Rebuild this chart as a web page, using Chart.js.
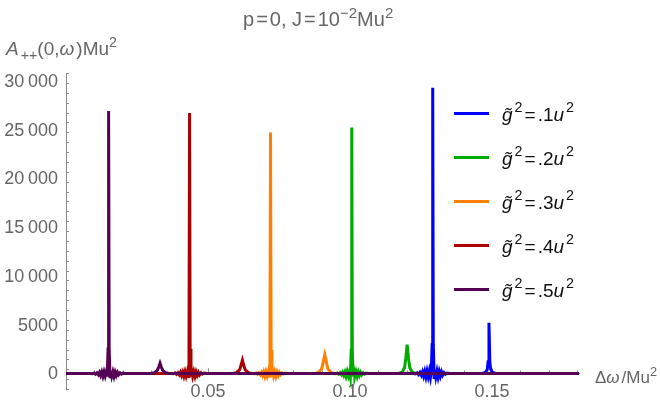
<!DOCTYPE html>
<html>
<head>
<meta charset="utf-8">
<script src="https://cdn.jsdelivr.net/npm/chart.js@4.4.1/dist/chart.umd.min.js"></script>
<style>
  body { margin: 0; background: #fff; }
  #wrap { position: relative; width: 660px; height: 405px; font-family: 'Liberation Sans', Arial, sans-serif; }
  canvas { position: absolute; left: 0; top: 0; }
  .lbl { position: absolute; white-space: nowrap; color: #666; }
  .lbl sup { font-size: 0.75em; vertical-align: 0.55em; line-height: 0; }
  .lbl sub { font-size: 0.75em; vertical-align: -0.35em; line-height: 0; }
  .lbl i, .leg-text i { margin-right: 2px; }
  .eq { margin: 0 2px; }
  .leg-line { position: absolute; width: 35px; height: 3px; }
  .leg-text { position: absolute; white-space: nowrap; font-size: 19px; line-height: 19px; color: #111; }
  .leg-text sup { font-size: 0.75em; vertical-align: 0.6em; line-height: 0; }
</style>
</head>
<body>
<div id="wrap">
  <canvas id="chart" width="660" height="405"></canvas>
  <div class="lbl" style="left:243px; top:9px; font-size:20px; line-height:20px;">p<span class="eq">=</span>0, J<span class="eq">=</span>10<sup>−2</sup>Mu<sup>2</sup></div>
  <div class="lbl" style="left:6px; top:39px; font-size:19px; line-height:19px;"><i>A</i><sub>++</sub>(0,<i>ω</i>)Mu<sup>2</sup></div>
  <div class="lbl" style="left:595px; top:369px; font-size:17px; line-height:17px;">Δ<i>ω</i>/Mu<sup>2</sup></div>
</div>
<script>
// couplings g~^2 in units of u^2, legend order
const couplings = ['.1', '.2', '.3', '.4', '.5'];
const colors = ['#0000ff', '#00aa00', '#ff8000', '#aa0000', '#550055'];

// [Δω/Mu², A++ Mu²]
const g01 = [[0,0],[0.1222,0],[0.1230,-50],[0.1236,70],[0.1241,-130],[0.1246,100],[0.1251,-200],[0.1255,150],[0.1259,-280],[0.1263,190],[0.1267,-360],[0.1271,230],[0.1275,-340],[0.1279,250],[0.1283,-400],[0.1286,270],[0.1289,3000],[0.1291,29300],[0.1293,3000],[0.1296,-420],[0.1299,270],[0.1302,-360],[0.1306,240],[0.1310,-390],[0.1314,190],[0.1318,-270],[0.1322,150],[0.1326,-190],[0.1331,80],[0.1336,-90],[0.1342,35],[0.1352,0],
  [0.1465,0],[0.1476,100],[0.1483,400],[0.1486,1200],[0.1489,5200],[0.1492,1200],[0.1495,400],[0.1502,100],[0.1513,0],[0.1806,0]];
const g02 = [[0,0],[0.0941,0],[0.0949,-35],[0.0955,40],[0.0960,-85],[0.0965,80],[0.0970,-140],[0.0974,110],[0.0978,-200],[0.0982,140],[0.0986,-290],[0.0990,180],[0.0994,-260],[0.0998,200],[0.1001,-310],[0.1004,2400],[0.1006,25200],[0.1008,2400],[0.1011,-320],[0.1014,210],[0.1017,-280],[0.1021,180],[0.1025,-300],[0.1029,140],[0.1033,-210],[0.1037,110],[0.1041,-140],[0.1046,60],[0.1051,-70],[0.1057,30],[0.1066,0],
  [0.1170,0],[0.1183,120],[0.1192,600],[0.1196,1500],[0.1201,2950],[0.1206,1500],[0.1210,600],[0.1219,120],[0.1232,0],[0.1806,0]];
const g03 = [[0,0],[0.0655,0],[0.0663,-30],[0.0669,50],[0.0674,-80],[0.0679,70],[0.0684,-130],[0.0688,100],[0.0692,-200],[0.0696,150],[0.0700,-280],[0.0704,170],[0.0708,-250],[0.0712,200],[0.0715,-300],[0.0718,2400],[0.0720,24700],[0.0722,2400],[0.0725,-330],[0.0728,200],[0.0731,-270],[0.0735,180],[0.0739,-310],[0.0743,130],[0.0747,-220],[0.0751,100],[0.0755,-130],[0.0760,50],[0.0765,-60],[0.0771,30],[0.0780,0],
  [0.0876,0],[0.0889,100],[0.0900,480],[0.0905,1100],[0.0911,1900],[0.0917,1100],[0.0922,480],[0.0933,100],[0.0946,0],[0.1806,0]];
const g04 = [[0,0],[0.0370,0],[0.0378,-35],[0.0384,50],[0.0389,-90],[0.0394,70],[0.0399,-150],[0.0403,110],[0.0407,-220],[0.0411,130],[0.0415,-280],[0.0419,180],[0.0423,-270],[0.0427,200],[0.0430,-320],[0.0433,2500],[0.0435,26700],[0.0437,2500],[0.0440,-330],[0.0443,220],[0.0446,-290],[0.0450,170],[0.0454,-310],[0.0458,150],[0.0462,-200],[0.0466,110],[0.0470,-150],[0.0475,60],[0.0480,-80],[0.0486,30],[0.0495,0],
  [0.0588,0],[0.0600,80],[0.0611,360],[0.0616,800],[0.0621,1350],[0.0626,800],[0.0631,360],[0.0642,80],[0.0654,0],[0.1806,0]];
const g05 = [[0,0],[0.0085,0],[0.0093,-30],[0.0099,40],[0.0104,-80],[0.0109,60],[0.0114,-140],[0.0118,100],[0.0122,-210],[0.0126,140],[0.0130,-300],[0.0134,170],[0.0138,-270],[0.0142,200],[0.0145,-320],[0.0148,2500],[0.0150,26900],[0.0152,2500],[0.0155,-340],[0.0158,210],[0.0161,-280],[0.0165,170],[0.0169,-320],[0.0173,140],[0.0177,-210],[0.0181,100],[0.0185,-140],[0.0190,60],[0.0195,-70],[0.0201,30],[0.0210,0],
  [0.0300,0],[0.0311,60],[0.0321,280],[0.0326,620],[0.0331,1050],[0.0336,620],[0.0341,280],[0.0351,60],[0.0362,0],[0.1806,0]];
const series = [g01, g02, g03, g04, g05];

const xTickValues = [0.05, 0.10, 0.15];
const xTickLabels = ['0.05', '0.10', '0.15'];
const yTickValues = [0, 5000, 10000, 15000, 20000, 25000, 30000];
const yTickLabels = ['0', '5000', '10\u2009000', '15\u2009000', '20\u2009000', '25\u2009000', '30\u2009000'];

const axisColor = '#8a8a8a';
const labelColor = '#666';
const tickFont = "18px 'Liberation Sans', Arial, sans-serif";

function findLabel(v, values, labels) {
  for (let i = 0; i < values.length; ++i) {
    if (Math.abs(v - values[i]) < 1e-9 * Math.max(1, Math.abs(values[i]))) return labels[i];
  }
  return '';
}

// Mathematica style axes: ticks pointing into the plot, labels outside
const frameAxes = {
  id: 'frameAxes',
  beforeDatasetsDraw(chart) {
    const { ctx, scales: { x, y } } = chart;
    const x0 = x.getPixelForValue(0);
    const y0 = y.getPixelForValue(0);
    ctx.save();
    ctx.strokeStyle = axisColor;
    ctx.lineWidth = 1;
    ctx.beginPath();
    for (const t of y.ticks) {
      if (t.value === 0) continue;
      const major = findLabel(t.value, yTickValues, yTickLabels) !== '';
      const py = Math.round(y.getPixelForValue(t.value)) + 0.5;
      ctx.moveTo(x0, py);
      ctx.lineTo(x0 + (major ? 5 : 3), py);
    }
    for (const t of x.ticks) {
      if (t.value === 0) continue;
      const major = findLabel(t.value, xTickValues, xTickLabels) !== '';
      const px = Math.round(x.getPixelForValue(t.value)) + 0.5;
      ctx.moveTo(px, y0);
      ctx.lineTo(px, y0 - (major ? 5 : 3));
    }
    ctx.stroke();

    ctx.fillStyle = labelColor;
    ctx.font = tickFont;
    ctx.textAlign = 'right';
    ctx.textBaseline = 'middle';
    yTickValues.forEach((v, i) => {
      ctx.fillText(yTickLabels[i], x0 - 8, y.getPixelForValue(v) + 1);
    });
    ctx.textAlign = 'center';
    ctx.textBaseline = 'top';
    xTickValues.forEach((v, i) => {
      ctx.fillText(xTickLabels[i], x.getPixelForValue(v), y0 + 10);
    });
    ctx.restore();
  }
};

new Chart(document.getElementById('chart'), {
  type: 'line',
  data: {
    datasets: series.map((s, i) => ({
      label: couplings[i],
      data: s.map(p => ({ x: p[0], y: p[1] })),
      borderColor: colors[i],
      borderWidth: 3,
      pointRadius: 0,
      tension: 0,
      order: 4 - i
    }))
  },
  options: {
    responsive: false,
    animation: false,
    layout: { padding: { left: 6, right: 81, top: 73, bottom: 16 } },
    plugins: { legend: { display: false }, tooltip: { enabled: false } },
    scales: {
      x: {
        type: 'linear',
        min: 0,
        max: 0.1806,
        position: { y: 0 },
        grid: { display: false, drawTicks: false },
        border: { color: axisColor, width: 1 },
        ticks: { display: false, stepSize: 0.01, includeBounds: false, autoSkip: false }
      },
      y: {
        type: 'linear',
        min: -1600,
        max: 30800,
        position: 'left',
        afterFit: s => { s.width = 60; },
        grid: { display: false, drawTicks: false },
        border: { color: axisColor, width: 1 },
        ticks: { display: false, stepSize: 1000, includeBounds: false, autoSkip: false }
      }
    }
  },
  plugins: [frameAxes]
});

// legend built from the same arrays
const wrap = document.getElementById('wrap');
couplings.forEach((c, i) => {
  const lineY = 113 + 44 * i;
  const line = document.createElement('div');
  line.className = 'leg-line';
  line.style.left = '454px';
  line.style.top = (lineY - 1.5) + 'px';
  line.style.background = colors[i];
  wrap.appendChild(line);
  const txt = document.createElement('div');
  txt.className = 'leg-text';
  txt.style.left = '502px';
  txt.style.top = (lineY - 8) + 'px';
  txt.innerHTML = '<i>g\u0303</i><sup>2</sup><span class="eq">=</span>' + c + '<i>u</i><sup>2</sup>';
  wrap.appendChild(txt);
});
</script>
</body>
</html>
